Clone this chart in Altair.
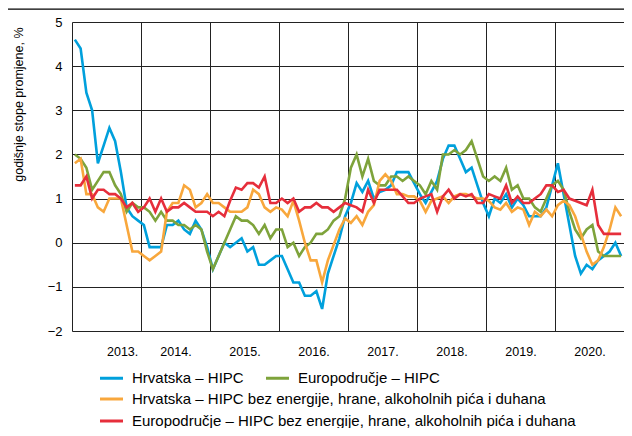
import altair as alt
import pandas as pd

years = list(range(2013, 2021))
months = list(range(1, 13))

name_hr = "Hrvatska – HIPC"
name_ea = "Europodručje – HIPC"
name_hr_core = "Hrvatska – HIPC bez energije, hrane, alkoholnih pića i duhana"
name_ea_core = "Europodručje – HIPC bez energije, hrane, alkoholnih pića i duhana"

hr_hipc = [
    4.6, 4.4, 3.4, 3.0, 1.8, 2.2, 2.6, 2.3, 1.6, 0.8, 0.6, 0.5,
    0.4, -0.1, -0.1, -0.1, 0.4, 0.4, 0.5, 0.3, 0.2, 0.5, 0.3, -0.1,
    -0.6, -0.3, 0.0, -0.1, 0.0, 0.1, -0.2, -0.1, -0.5, -0.5, -0.4, -0.3,
    -0.3, -0.6, -0.9, -0.9, -1.2, -1.2, -1.1, -1.5, -0.7, -0.3, 0.1, 0.6,
    0.9, 1.35, 1.15, 1.4, 1.0, 1.15, 1.2, 1.3, 1.6, 1.6, 1.6, 1.35,
    1.1, 0.9, 1.15, 1.4, 1.9, 2.2, 2.2, 1.9, 1.6, 1.7, 1.3, 0.9,
    0.6, 1.0, 0.9, 1.1, 0.8, 1.0, 0.85, 0.6, 0.6, 0.6, 0.8, 1.3,
    1.8, 1.1, 0.4, -0.3, -0.7, -0.5, -0.6, -0.4, -0.3, -0.2, 0.0, -0.3,
]
ea_hipc = [
    2.0, 1.9, 1.7, 1.2, 1.4, 1.6, 1.6, 1.3, 1.1, 0.7, 0.9, 0.8,
    0.8, 0.7, 0.5, 0.7, 0.5, 0.5, 0.4, 0.4, 0.3, 0.4, 0.3, -0.2,
    -0.6, -0.3, 0.0, 0.3, 0.6, 0.5, 0.5, 0.4, 0.2, 0.4, 0.1, 0.3,
    0.3, -0.1, 0.0, -0.3, -0.1, 0.0, 0.2, 0.2, 0.3, 0.5, 0.6, 1.0,
    1.7, 2.0, 1.5, 1.9, 1.4, 1.3, 1.3, 1.5, 1.5, 1.4, 1.5, 1.4,
    1.3, 1.1, 1.4, 1.2, 2.0, 2.0, 2.1, 2.0, 2.1, 2.3, 1.9, 1.5,
    1.4, 1.5, 1.4, 1.7, 1.2, 1.3, 1.0, 1.0, 0.8, 0.7, 1.0, 1.3,
    1.4, 1.2, 0.7, 0.3, 0.1, 0.3, 0.4, -0.2, -0.3, -0.3, -0.3, -0.3,
]
hr_core = [
    1.8, 1.9, 1.1, 1.1, 0.8, 0.7, 1.0, 1.0, 1.0, 0.4, -0.2, -0.2,
    -0.3, -0.4, -0.3, -0.2, 0.7, 0.9, 0.9, 1.3, 1.2, 0.8, 0.9, 1.1,
    0.9, 0.9, 0.8, 0.7, 0.7, 0.7, 0.8, 1.2, 1.1, 0.8, 0.7, 0.8,
    0.75, 0.6, 0.95, 0.5, 0.0, -0.4, -0.4, -0.9, -0.4, -0.05, 0.3, 0.55,
    0.45, 0.6, 0.4, 0.7, 0.85, 1.4, 1.55, 1.4, 1.1, 1.1, 1.05, 1.05,
    0.95, 0.7, 0.95, 1.0, 1.05, 0.9, 1.05, 1.1, 1.1, 1.05, 1.0, 1.0,
    0.95, 0.8, 0.75, 0.9, 0.7, 0.8, 0.75, 0.4, 0.7, 0.6, 0.75, 0.6,
    0.85, 0.95, 0.85, 0.6, 0.2, -0.2, -0.5, -0.4, -0.1, 0.3, 0.8, 0.6,
]
ea_core = [
    1.3, 1.3, 1.5, 1.0, 1.2, 1.2, 1.1, 1.1, 1.0, 0.8, 0.9, 0.7,
    0.8, 1.0, 0.7, 1.0, 0.7, 0.8, 0.8, 0.9, 0.8, 0.7, 0.7, 0.7,
    0.6, 0.7, 0.6, 0.95, 1.25, 1.2, 1.35, 1.35, 1.25, 1.5, 0.9, 0.9,
    1.0, 0.9, 1.0, 0.7, 0.8, 0.8, 0.9, 0.8, 0.8, 0.7, 0.8, 0.9,
    0.85, 0.8, 0.7, 1.2, 0.9, 1.2, 1.2, 1.2, 1.2, 1.05, 0.9, 0.9,
    1.0, 1.05, 1.1, 0.7, 1.05, 1.2, 1.0, 1.1, 1.05, 1.1, 0.9, 0.9,
    1.1, 1.05, 1.0, 1.3, 0.9, 1.05, 0.9, 0.9, 1.0, 1.1, 1.3, 1.3,
    1.15, 1.2, 1.0, 0.95, 0.9, 0.85, 1.2, 0.4, 0.2, 0.2, 0.2, 0.2,
]

y_ticks = [-2, -1, 0, 1, 2, 3, 4, 5]
colors1 = ["#00a0dc", "#7ea33b"]
colors2 = ["#f8a73c", "#e62e3b"]

t = [y + (m - 0.5) / 12 for y in years for m in months]
n = len(t)
df1 = pd.DataFrame({"t": t * 2, "v": hr_hipc + ea_hipc, "s1": [name_hr] * n + [name_ea] * n})
df2 = pd.DataFrame({"t": t * 2, "v": hr_core + ea_core, "s2": [name_hr_core] * n + [name_ea_core] * n})

FONT = "Liberation Sans, Arial, sans-serif"

x_scale = alt.Scale(domain=[2013, 2021], nice=False, zero=False)
y_scale = alt.Scale(domain=[-2, 5], nice=False, zero=False)

x_enc = alt.X(
    "t:Q",
    scale=x_scale,
    axis=alt.Axis(
        values=years, labelExpr="datum.value + '.'", labelOffset=34.5,
        grid=True, gridColor="#222", gridWidth=1, ticks=False, tickSize=0,
        domain=False, labelPadding=14, labelFontSize=12.5, labelColor="black",
        labelFont=FONT, title=None,
    ),
)
y_enc = alt.Y(
    "v:Q",
    scale=y_scale,
    axis=alt.Axis(
        values=y_ticks, grid=True, gridColor="#222", gridWidth=1, ticks=False,
        tickSize=0, domain=False, labelPadding=10, labelFontSize=13,
        labelColor="black", labelFont=FONT,
        title="godišnje stope promjene, %", titleFont=FONT, titleFontSize=12.5,
        titleFontWeight="normal", titleColor="black", titleAngle=270,
        titleX=-54, titleY=5, titleAlign="right", titleBaseline="middle",
    ),
)

leg_common = dict(
    title=None, orient="none", symbolType="M-2,0H2", symbolSize=132.25,
    symbolStrokeWidth=3, symbolOffset=4, labelOffset=13, labelFontSize=15,
    labelFont=FONT, labelColor="black", padding=0, labelLimit=0,
)

lines1 = alt.Chart(df1).mark_line(strokeWidth=2.6).encode(
    x=x_enc, y=y_enc,
    color=alt.Color(
        "s1:N",
        scale=alt.Scale(domain=[name_hr, name_ea], range=colors1),
        legend=alt.Legend(legendX=28, legendY=348.5, direction="horizontal",
                          columns=2, columnPadding=16, **leg_common),
    ),
)
lines2 = alt.Chart(df2).mark_line(strokeWidth=2.6).encode(
    x=x_enc, y=y_enc,
    color=alt.Color(
        "s2:N",
        scale=alt.Scale(domain=[name_hr_core, name_ea_core], range=colors2),
        legend=alt.Legend(legendX=28, legendY=369.5, direction="vertical",
                          rowPadding=6, **leg_common),
    ),
)
# thin black band above the frame, drawn in pixel space
top_line = alt.Chart(pd.DataFrame({"k": [1]})).mark_rect(
    color="black", opacity=1, clip=False
).encode(
    x=alt.value(-64), x2=alt.value(552), y=alt.value(-13.6), y2=alt.value(-12.3)
)

chart = (
    alt.layer(top_line, lines1, lines2)
    .resolve_scale(color="independent")
    .properties(
        width=552, height=309,
        autosize=alt.AutoSizeParams(type="none"),
        padding={"left": 64, "top": 14, "right": 0, "bottom": 97},
    )
    .configure_view(stroke="black", strokeWidth=1.2)
    .configure(font=FONT)
)

chart.save("out.html", embed_options={"renderer": "svg", "actions": False})
